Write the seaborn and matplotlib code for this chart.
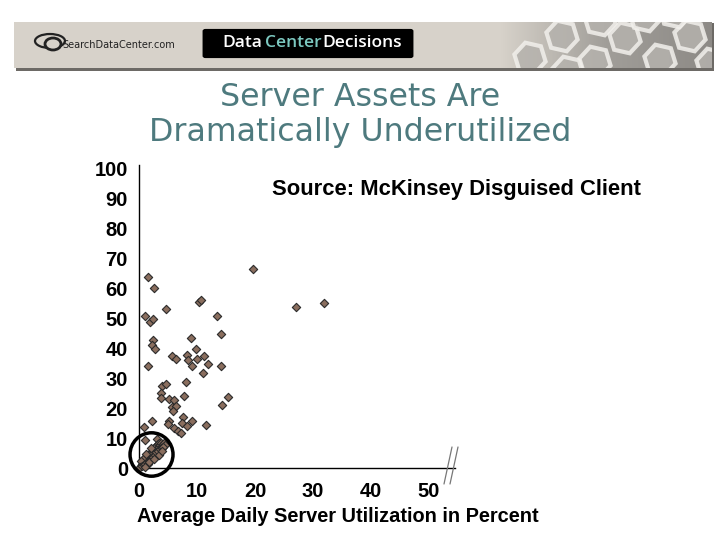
import numpy as np
import pandas as pd
import matplotlib
matplotlib.use("Agg")
import matplotlib.pyplot as plt
import seaborn as sns
from matplotlib.patches import Rectangle, FancyBboxPatch, Ellipse, Circle, RegularPolygon
from matplotlib.lines import Line2D

# Scattered servers (utilization %, second metric)
util_spread = [1.6, 2.6, 4.7, 10.3, 10.7, 1.0, 1.9, 2.4, 13.4, 14.1, 9.0, 2.4, 2.2, 2.8,
               9.8, 5.7, 6.4, 8.3, 8.4, 10.0, 11.2, 9.1, 11.9, 14.1, 1.6, 11.0, 8.1, 4.0,
               4.7, 3.8, 3.8, 5.2, 6.0, 7.8, 15.3, 5.7, 6.3, 5.9, 14.3, 7.6, 7.4, 9.1,
               5.2, 5.0, 2.2, 0.9, 6.0, 6.7, 7.2, 8.3, 11.6, 1.0, 3.1,
               19.7, 27.1, 31.9]
value_spread = [63.7, 60.0, 53.0, 55.3, 56.0, 50.7, 48.7, 49.7, 50.7, 44.7, 43.3, 42.7, 41.0, 39.7,
                39.7, 37.3, 36.3, 37.7, 36.0, 36.3, 37.3, 34.0, 34.7, 34.0, 34.0, 31.7, 28.7, 27.3,
                28.0, 25.0, 23.3, 23.0, 22.7, 24.0, 23.7, 20.4, 20.7, 19.1, 21.0, 17.0, 15.0, 15.7,
                15.7, 14.7, 15.7, 13.7, 13.3, 12.3, 11.7, 14.0, 14.3, 9.3, 9.7,
                66.3, 53.7, 55.0]

# Dense cluster near the origin (circled)
util_cluster = [0.3, 0.5, 0.6, 0.8, 0.9, 1.0, 1.1, 1.2, 1.3, 1.4, 1.5, 1.6, 1.7, 1.8, 1.9,
                2.0, 2.1, 2.2, 2.3, 2.4, 2.5, 2.6, 2.7, 2.8, 2.9, 3.0, 3.1, 3.2, 3.3, 3.4,
                3.5, 3.6, 3.8, 3.9, 4.1, 4.3, 4.4, 0.7, 1.2, 2.0, 1.5, 2.4, 3.0, 0.4, 3.7,
                0.2, 0.5, 0.9, 1.1, 1.4, 1.7, 2.0, 2.2, 2.5, 2.7, 3.0, 3.3, 3.6, 3.9, 4.2,
                1.0, 1.8, 2.6, 3.4, 4.0]
value_cluster = [0.8, 1.5, 0.9, 2.0, 1.3, 2.6, 1.8, 3.0, 2.2, 3.5, 2.8, 4.0, 3.1, 4.6, 3.6,
                 5.0, 4.1, 5.5, 4.4, 6.1, 5.0, 6.6, 5.3, 7.0, 5.8, 7.4, 6.2, 7.9, 6.7, 8.2,
                 7.1, 7.6, 8.4, 7.2, 7.9, 8.5, 7.6, 3.0, 4.8, 6.8, 1.2, 3.5, 4.8, 2.2, 6.0,
                 0.3, 0.6, 1.0, 1.4, 1.9, 2.4, 2.9, 3.3, 3.8, 4.3, 5.2, 5.6, 6.3, 6.6, 7.0,
                 0.4, 2.0, 3.0, 4.5, 5.6]

x_ticks = [0, 10, 20, 30, 40, 50]
y_ticks = [0, 10, 20, 30, 40, 50, 60, 70, 80, 90, 100]

df = pd.DataFrame({
    "util": util_spread + util_cluster,
    "value": value_spread + value_cluster,
})

sns.set_style("white")
plt.rcParams["font.family"] = ["Liberation Sans", "DejaVu Sans"]
plt.rcParams["text.color"] = "black"
plt.rcParams["xtick.color"] = "black"
plt.rcParams["ytick.color"] = "black"

W, H = 720, 540
fig = plt.figure(figsize=(7.2, 5.4), dpi=100)


def fx(px):
    return px / W


def fy(py):
    return 1 - py / H


# ---- header banner ----
fig.add_artist(Rectangle((fx(16), fy(71)), fx(698), 48 / H, transform=fig.transFigure,
                         facecolor="#6d6a66", edgecolor="none", zorder=0))
fig.add_artist(Rectangle((fx(14), fy(68)), fx(698), 46 / H, transform=fig.transFigure,
                         facecolor="#d7d2ca", edgecolor="none", zorder=0))
# honeycomb texture on the right
hex_ax = fig.add_axes([fx(500), fy(68), fx(212), 46 / H])
hex_ax.set_zorder(1)
grad = np.tile(np.linspace(0.0, 1.0, 200), (20, 1))
hex_ax.imshow(grad, cmap=sns.blend_palette(["#d7d2ca", "#a19e99", "#8d8a86"], as_cmap=True),
              aspect="auto", extent=[0, 212, 0, 46])
for cx, cy in [(30, 10), (62, 32), (95, 6), (125, 30), (160, 8), (190, 32), (212, 4), (68, -4), (145, 52),
               (100, 48), (175, 56)]:
    hex_ax.add_patch(RegularPolygon((cx, cy), 6, radius=16, orientation=0.3,
                                    facecolor="#b5b2ad", edgecolor="#f2f0ec", lw=3, alpha=0.85))
hex_ax.set_xlim(0, 212)
hex_ax.set_ylim(0, 46)
hex_ax.axis("off")

fig.add_artist(FancyBboxPatch((fx(204), fy(57)), fx(208), 27 / H,
                              boxstyle="round,pad=0.002,rounding_size=0.004",
                              transform=fig.transFigure, facecolor="black", edgecolor="none"))
for word, x0, col in [("Data", 222, "white"), ("Center", 265, "#7cc8c0"), ("Decisions", 322, "white")]:
    fig.text(fx(x0), fy(43), word, color=col, fontsize=12.5, fontweight="semibold",
             va="center", ha="left", family=["Open Sans", "DejaVu Sans"])
# logo
fig.add_artist(Ellipse((fx(50), fy(41)), fx(30), 14 / H, transform=fig.transFigure,
                       facecolor="none", edgecolor="#222222", lw=1.6))
fig.add_artist(Circle((fx(53), fy(44)), 6 / H, transform=fig.transFigure,
                      facecolor="#d7d2ca", edgecolor="#222222", lw=2))
fig.text(fx(62), fy(45), "SearchDataCenter.com", fontsize=7, color="#222222",
         va="center", ha="left", family=["DejaVu Sans Condensed", "DejaVu Sans"])

# ---- title ----
fig.text(0.5, fy(115), "Server Assets Are\nDramatically Underutilized", ha="center",
         va="center", fontsize=22.8, color="#4e7a7e", linespacing=1.17,
         family=["DejaVu Sans"])

# ---- scatter ----
ax = fig.add_axes([fx(139), fy(468), fx(316), 303 / H])
sns.scatterplot(data=df, x="util", y="value", marker="D", s=18, color="#8a6e5e",
                edgecolor="#2a2a2a", linewidth=0.8, ax=ax, clip_on=False, zorder=3)
ax.set_xlim(0, 54.5)
ax.set_ylim(0, 101)
ax.set_xticks(x_ticks)
ax.set_yticks(y_ticks)
ax.set_xticklabels([str(t) for t in x_ticks], fontsize=14.5, fontweight="bold")
ax.set_yticklabels([str(t) for t in y_ticks], fontsize=14.5, fontweight="bold")
ax.tick_params(axis="both", direction="inout", length=4, width=2, color="black")
ax.tick_params(axis="y", pad=6)
ax.tick_params(axis="x", pad=8)
for side in ["top", "right"]:
    ax.spines[side].set_visible(False)
for side in ["left", "bottom"]:
    ax.spines[side].set_color("black")
    ax.spines[side].set_linewidth(1.0)
ax.set_xlabel("")
ax.set_ylabel("")

ax.add_patch(Ellipse((2.16, 4.5), 2 * 21.5 / 5.8, 2 * 21.7 / 3.0, facecolor="none",
                     edgecolor="black", lw=2.5, clip_on=False, zorder=4))

fig.text(fx(272), fy(190), "Source: McKinsey Disguised Client",
         fontsize=15.8, fontweight="bold", ha="left", va="center")

# axis break marks
for dx in (0, 6):
    fig.add_artist(Line2D([fx(452 + dx), fx(444 + dx)], [fy(447), fy(484)],
                          transform=fig.transFigure, color="#777777", lw=0.9))

fig.text(fx(338), fy(516), "Average Daily Server Utilization in Percent", ha="center",
         va="center", fontsize=14.4, fontweight="bold")

fig.savefig("out.png", dpi=100, facecolor="white")
